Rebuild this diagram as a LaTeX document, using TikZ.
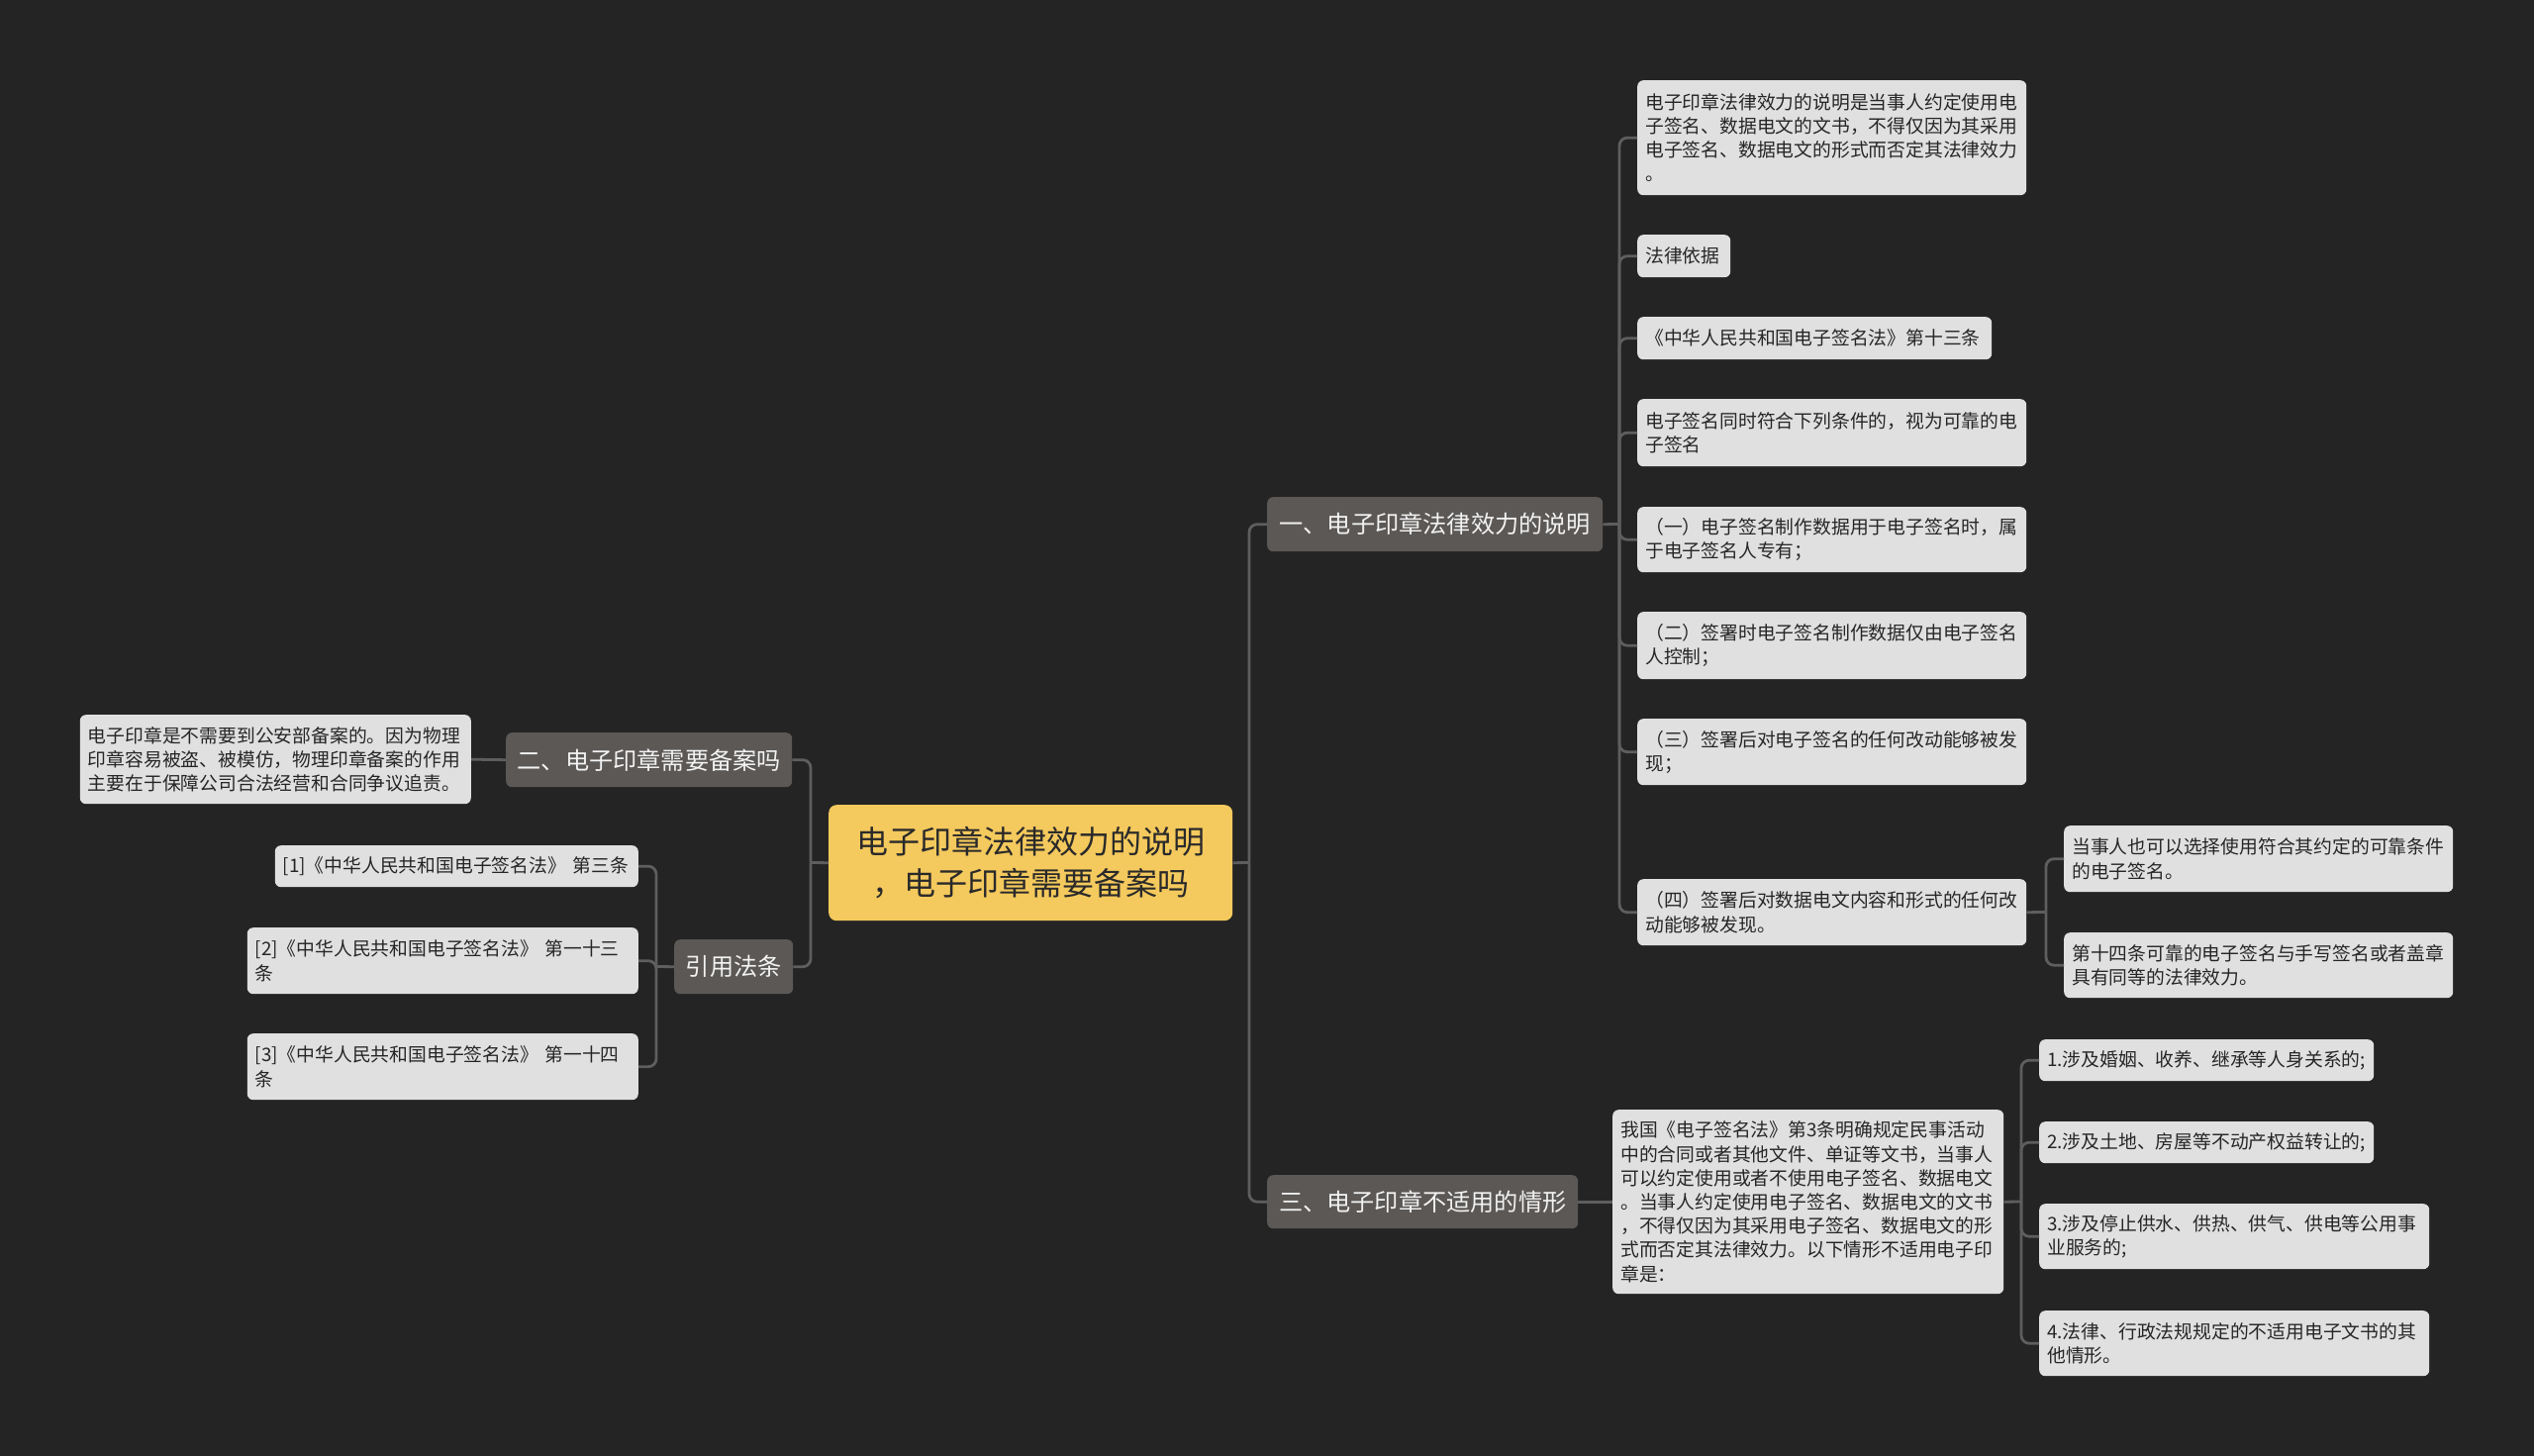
\documentclass[tikz,border=0pt]{standalone}
\usepackage{fontspec}
\newfontfamily\cjk{Noto Sans CJK SC}
\definecolor{bgc}{HTML}{242424}
\definecolor{linec}{HTML}{5E5E5E}
\definecolor{leafc}{HTML}{E0E0E0}
\definecolor{leaftext}{HTML}{262626}
\definecolor{branchc}{HTML}{5B5856}
\definecolor{branchtext}{HTML}{F2F2F2}
\definecolor{rootc}{HTML}{F4C95D}
\definecolor{roottext}{HTML}{2A2A2A}
\begin{document}
\begin{tikzpicture}[x=1pt,y=-1pt,
  conn/.style={draw=linec, line width=2.8pt, rounded corners=8pt},
  leaf/.style={anchor=north west, inner xsep=8pt, inner ysep=0pt, align=left,
    rounded corners=6pt, fill=leafc, text=leaftext,
    font=\cjk\fontsize{18.8}{24.2}\selectfont},
  branch/.style={anchor=north west, inner sep=0pt, fill=branchc, text=branchtext,
    rounded corners=6pt, font=\cjk\fontsize{24.2}{28}\selectfont},
  root/.style={anchor=north west, inner sep=0pt, fill=rootc, text=roottext,
    rounded corners=8pt, align=center, font=\cjk\fontsize{32}{42}\selectfont}
]
\useasboundingbox (0,0) rectangle (2560,1471);
\fill[bgc] (0,0) rectangle (2560,1471);

% root
\node[root, minimum width=408pt, minimum height=117pt] (c) at (837,813)
  {电子印章法律效力的说明\\，电子印章需要备案吗};

% branches
\node[branch, minimum width=339pt, minimum height=55pt] (b1) at (1280,502) {一、电子印章法律效力的说明};
\node[branch, minimum width=314pt, minimum height=54pt] (b3) at (1280,1187) {三、电子印章不适用的情形};
\node[branch, minimum width=289pt, minimum height=55pt] (b2) at (511,740) {二、电子印章需要备案吗};
\node[branch, minimum width=120pt, minimum height=55pt] (b4) at (681,949) {引用法条};

% branch 1 leaves
\node[leaf, text width=377pt, minimum height=116pt] (a1) at (1654,81)
  {电子印章法律效力的说明是当事人约定使用电\\子签名、数据电文的文书，不得仅因为其采用\\电子签名、数据电文的形式而否定其法律效力\\。};
\node[leaf, text width=78pt, minimum height=43pt] (a2) at (1654,237) {法律依据};
\node[leaf, text width=342pt, minimum height=43pt] (a3) at (1654,320) {《中华人民共和国电子签名法》第十三条};
\node[leaf, text width=377pt, minimum height=68pt] (a4) at (1654,403)
  {电子签名同时符合下列条件的，视为可靠的电\\子签名};
\node[leaf, text width=377pt, minimum height=66pt] (a5) at (1654,512)
  {（一）电子签名制作数据用于电子签名时，属\\于电子签名人专有；};
\node[leaf, text width=377pt, minimum height=68pt] (a6) at (1654,618)
  {（二）签署时电子签名制作数据仅由电子签名\\人控制；};
\node[leaf, text width=377pt, minimum height=67pt] (a7) at (1654,726)
  {（三）签署后对电子签名的任何改动能够被发\\现；};
\node[leaf, text width=377pt, minimum height=67pt] (a8) at (1654,888)
  {（四）签署后对数据电文内容和形式的任何改\\动能够被发现。};
\node[leaf, text width=377pt, minimum height=67pt] (e1) at (2085,834)
  {当事人也可以选择使用符合其约定的可靠条件\\的电子签名。};
\node[leaf, text width=377pt, minimum height=66pt] (e2) at (2085,942)
  {第十四条可靠的电子签名与手写签名或者盖章\\具有同等的法律效力。};

% branch 3
\node[leaf, text width=379pt, minimum height=186pt] (k) at (1629,1121)
  {我国《电子签名法》第3条明确规定民事活动\\中的合同或者其他文件、单证等文书，当事人\\可以约定使用或者不使用电子签名、数据电文\\。当事人约定使用电子签名、数据电文的文书\\，不得仅因为其采用电子签名、数据电文的形\\式而否定其法律效力。以下情形不适用电子印\\章是：};
\node[leaf, text width=322pt, minimum height=42pt] (l1) at (2060,1050) {1.涉及婚姻、收养、继承等人身关系的;};
\node[leaf, text width=322pt, minimum height=42pt] (l2) at (2060,1133) {2.涉及土地、房屋等不动产权益转让的;};
\node[leaf, text width=378pt, minimum height=66pt] (l3) at (2060,1216)
  {3.涉及停止供水、供热、供气、供电等公用事\\业服务的;};
\node[leaf, text width=378pt, minimum height=66pt] (l4) at (2060,1324)
  {4.法律、行政法规规定的不适用电子文书的其\\他情形。};

% left side
\node[leaf, anchor=north east, text width=379pt, minimum height=90pt] (d) at (476,722)
  {电子印章是不需要到公安部备案的。因为物理\\印章容易被盗、被模仿，物理印章备案的作用\\主要在于保障公司合法经营和合同争议追责。};
\node[leaf, anchor=north east, text width=351pt, minimum height=42pt] (r1) at (645,854)
  {[1]《中华人民共和国电子签名法》 第三条};
\node[leaf, anchor=north east, text width=379pt, minimum height=67pt] (r2) at (645,937)
  {[2]《中华人民共和国电子签名法》 第一十三\\条};
\node[leaf, anchor=north east, text width=379pt, minimum height=67pt] (r3) at (645,1044)
  {[3]《中华人民共和国电子签名法》 第一十四\\条};

% trunk coordinates
\coordinate (tr) at (1262,871.5);
\coordinate (tl) at (819,871.5);
\coordinate (ta) at (1636,529.5);
\coordinate (te) at (2067,921.5);
\coordinate (tk) at (2042,1214);
\coordinate (tq) at (663,976.5);

% connectors
\draw[conn] (c.east) -- (tr);
\draw[conn] (tr) |- (b1.west);
\draw[conn] (tr) |- (b3.west);
\draw[conn] (c.west) -- (tl);
\draw[conn] (tl) |- (b2.east);
\draw[conn] (tl) |- (b4.east);

\draw[conn] (b1.east) -- (ta);
\foreach \n in {a1,a2,a3,a4,a5,a6,a7,a8} { \draw[conn] (ta) |- (\n.west); }
\draw[conn] (a8.east) -- (te);
\foreach \n in {e1,e2} { \draw[conn] (te) |- (\n.west); }

\draw[conn] (b3.east) -- (k.west);
\draw[conn] (k.east) -- (tk);
\foreach \n in {l1,l2,l3,l4} { \draw[conn] (tk) |- (\n.west); }

\draw[conn] (b2.west) -- (d.east);
\draw[conn] (b4.west) -- (tq);
\foreach \n in {r1,r2,r3} { \draw[conn] (tq) |- (\n.east); }
\end{tikzpicture}
\end{document}
